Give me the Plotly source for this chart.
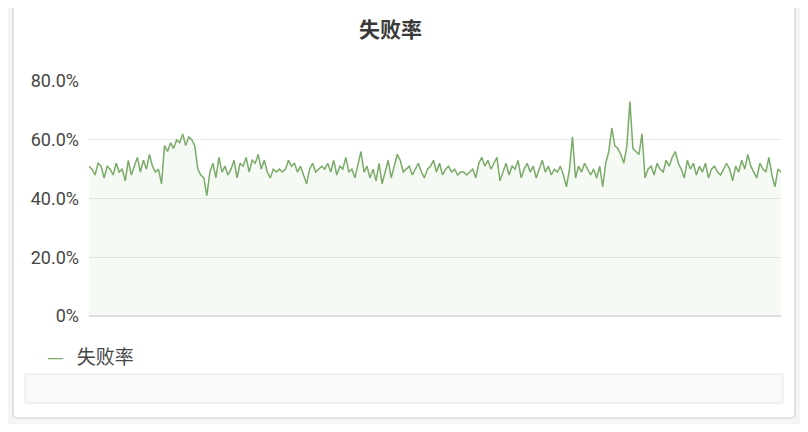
import plotly.graph_objects as go

# 失败率 (%)
seg_inicio = [51, 50, 48, 52, 51, 47, 51, 50, 48, 52, 49, 50, 46, 53, 48, 51, 54, 49, 53, 50,
              55, 51, 49, 50, 45]
seg_bloco1 = [58, 56, 59, 57, 60, 59, 62, 58, 61, 60, 58]
seg_queda = [50, 48, 47, 41]
seg_a = [49, 52, 47, 54, 49, 51, 48, 50, 53, 47, 52, 51, 54, 49, 53, 52, 55, 50, 53, 49, 47]
seg_b = [50, 49, 50, 49, 50, 53, 51, 52, 49, 51, 48, 45, 50, 52, 49, 50, 51, 50, 52, 49]
seg_c = [53, 48, 51, 50, 54, 49, 50, 47, 52, 56, 49, 51, 47, 50, 46, 52, 45, 49, 53, 47,
         51, 55, 53, 49, 50, 51, 48, 50, 52, 49]
seg_d = [47, 50, 51, 53, 49, 52, 48, 50, 51, 49, 50, 48, 49, 49, 48, 49, 50, 47, 52, 54,
         51, 53, 50, 52, 54]
seg_e = [46, 49, 52, 48, 51, 50, 53, 47, 50, 52, 49, 51, 47, 50, 53, 49, 51, 48, 50, 49, 51, 48]
seg_f = [44, 50, 61, 47, 51, 49, 52, 50, 48, 50, 47, 51]
seg_bloco2 = [44, 52, 56, 64, 58, 57, 55, 52, 58, 73, 57, 56, 55, 62, 47, 50]
seg_fim = [51, 48, 52, 50, 49, 53, 51, 54, 56, 52, 50, 47, 53, 50, 52, 48, 51, 49, 52, 47,
           50, 51, 49, 48, 50, 52, 50, 46, 51, 49, 53, 50, 55, 51, 49, 47, 52, 50, 49, 54,
           48, 44, 50, 49]

falhas = (seg_inicio + seg_bloco1 + seg_queda + seg_a + seg_b + seg_c + seg_d + seg_e
          + seg_f + seg_bloco2 + seg_fim)
pontos = list(range(len(falhas)))

ticks_y = [0, 20, 40, 60, 80]
ticks_txt = ["0%", "20.0%", "40.0%", "60.0%", "80.0%"]

# a página tem margem de 8px no body, então desloco tudo
OFF = 8
W, H = 800, 416
L, R, T, B = 89 - OFF, 781 - OFF, 81 - OFF, 316 - OFF


def px_x(x):
    return (x - OFF - L) / (R - L)


def px_y(y):
    return (B - (y - OFF)) / (B - T)


def ret_arredondado(x0, y0, x1, y1, r=4):
    # retângulo com cantos arredondados em coordenadas paper
    a0, a1 = px_x(x0), px_x(x1)
    b0, b1 = px_y(y1), px_y(y0)  # b0 embaixo, b1 em cima
    rx = r / (R - L)
    ry = r / (B - T)
    return (f"M {a0+rx},{b0} L {a1-rx},{b0} Q {a1},{b0} {a1},{b0+ry} "
            f"L {a1},{b1-ry} Q {a1},{b1} {a1-rx},{b1} L {a0+rx},{b1} "
            f"Q {a0},{b1} {a0},{b1-ry} L {a0},{b0+ry} Q {a0},{b0} {a0+rx},{b0} Z")


fig = go.Figure()
fig.add_trace(go.Scatter(
    x=pontos, y=falhas, mode="lines", name="失败率",
    line=dict(color="#7aab68", width=1.5),
    fill="tozeroy", fillcolor="rgba(126,178,109,0.07)",
))

fig.update_layout(
    width=W, height=H,
    margin=dict(l=L, r=W - R, t=T, b=H - B),
    paper_bgcolor="#f4f5f6",
    plot_bgcolor="rgba(0,0,0,0)",
    showlegend=False,
    font=dict(family="Roboto, Noto Sans CJK SC", color="#464646"),
    xaxis=dict(range=[0, len(falhas) - 1], showticklabels=False, showgrid=False,
               zeroline=False, showline=False, ticks=""),
    yaxis=dict(range=[0, 80], tickvals=ticks_y, ticktext=ticks_txt,
               tickfont=dict(size=18, color="#464646"), ticks="", ticklen=0,
               ticklabelstandoff=9,
               gridcolor="#e8e8e8", gridwidth=1, zeroline=True,
               zerolinecolor="#e0e0e0", zerolinewidth=2, showline=False),
    shapes=[
        dict(type="path", xref="paper", yref="paper", layer="below",
             path=ret_arredondado(13, 6, 795, 418, r=4),
             fillcolor="#ffffff", line=dict(color="#dcdcdc", width=1.5)),
        dict(type="rect", xref="paper", yref="paper", layer="below",
             x0=px_x(25), x1=px_x(783), y0=px_y(403), y1=px_y(374),
             fillcolor="#f8f9fa", line=dict(color="#e6e6e6", width=1)),
    ],
    annotations=[
        dict(text="<b>失败率</b>", xref="paper", yref="paper",
             x=px_x(390), y=px_y(28), xanchor="center", yanchor="middle", showarrow=False,
             font=dict(size=21, color="#3a3a3a", family="Noto Sans CJK SC")),
        dict(text="<span style='color:#7aab68'>—</span>   失败率", xref="paper", yref="paper",
             x=px_x(45), y=px_y(355), xanchor="left", yanchor="middle", showarrow=False,
             font=dict(size=19, color="#464646", family="Noto Sans CJK SC")),
    ],
)

fig.write_html("out.html")
